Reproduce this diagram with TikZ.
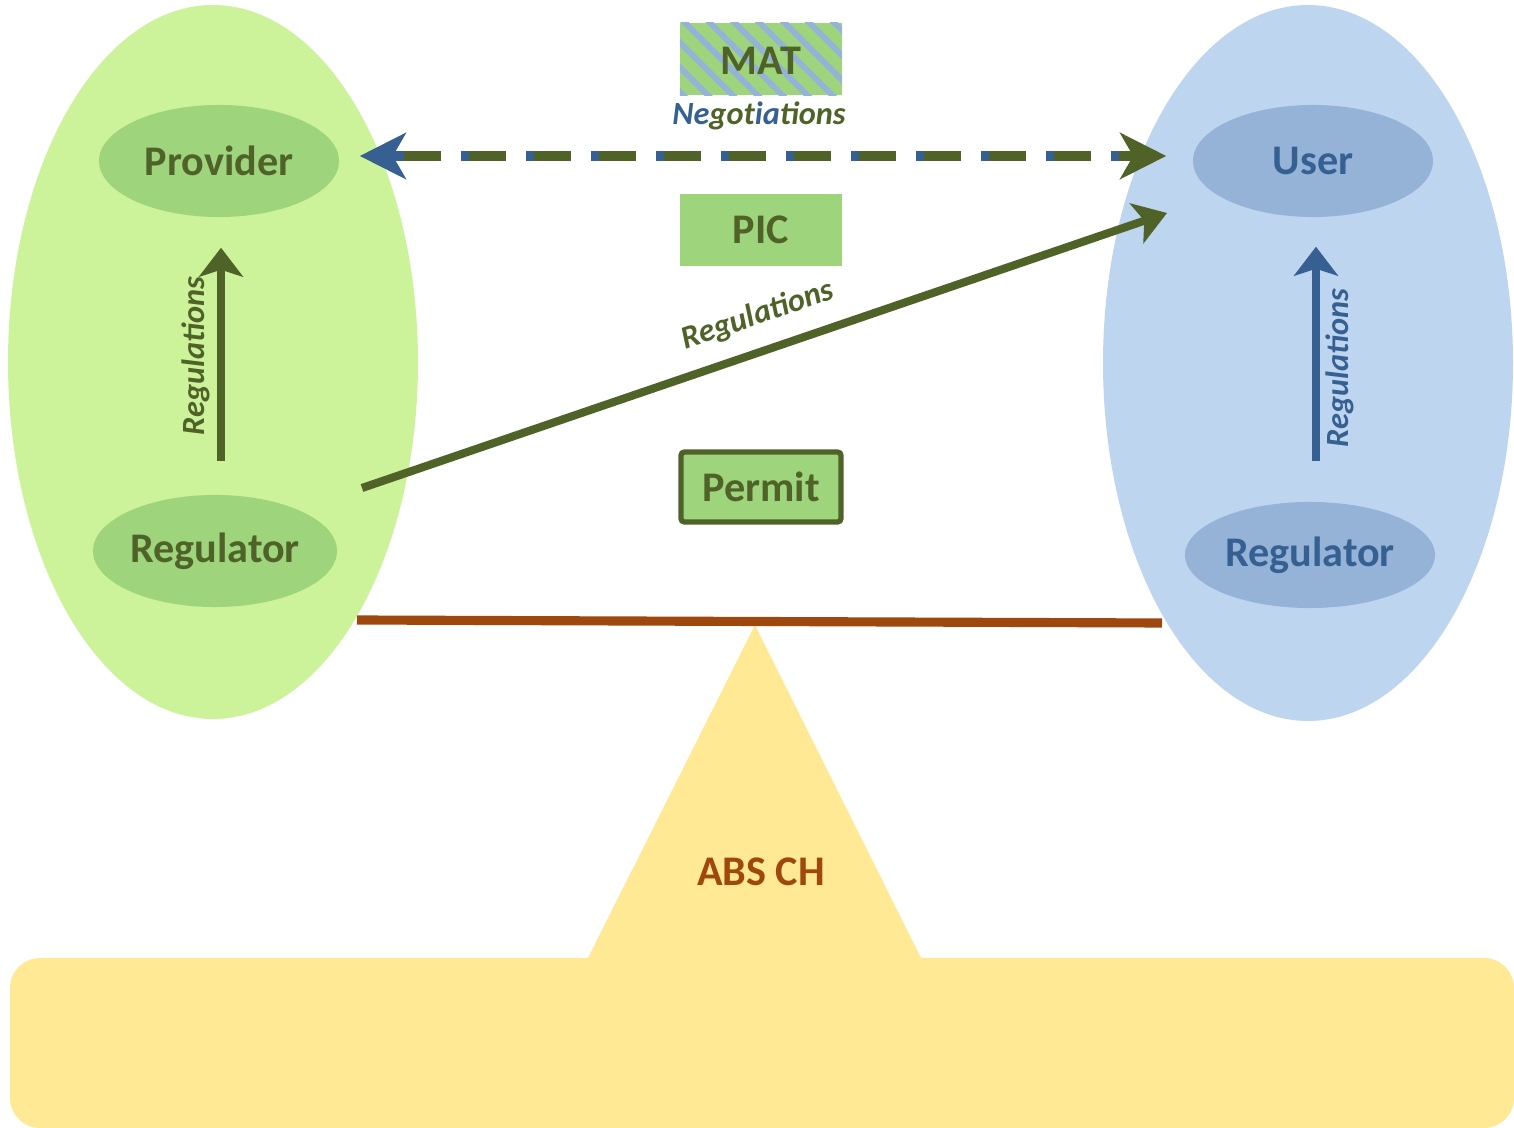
\documentclass[tikz,border=0pt]{standalone}
\usepackage{fontspec}
\setmainfont{Carlito}
\usetikzlibrary{shapes.geometric,arrows.meta,patterns.meta}
\definecolor{paleGreen}{RGB}{204,242,154}
\definecolor{midGreen}{RGB}{158,213,124}
\definecolor{olive}{RGB}{79,98,40}
\definecolor{paleBlue}{RGB}{190,213,240}
\definecolor{midBlue}{RGB}{149,179,215}
\definecolor{deepBlue}{RGB}{54,96,146}
\definecolor{beamBrown}{RGB}{158,72,14}
\definecolor{baseYellow}{RGB}{255,233,148}
\tikzset{
  party/.style={ellipse,inner sep=0pt,minimum width=2.4cm,minimum height=1.12cm,font=\fontsize{12}{14}\selectfont\bfseries},
  doc/.style={rectangle,inner sep=0pt,minimum width=1.62cm,minimum height=0.72cm,fill=midGreen,text=olive,font=\fontsize{12}{14}\selectfont\bfseries},
  lbl/.style={font=\fontsize{9.2}{11}\selectfont\bfseries\itshape},
  bigtip/.style={-{Stealth[length=0.46cm,width=0.46cm,inset=0.13cm]}},
  smalltip/.style={-{Stealth[length=0.29cm,width=0.44cm,inset=0.07cm]}}
}
\begin{document}
\begin{tikzpicture}[x=0.01cm,y=-0.01cm]
  \useasboundingbox (0,0) rectangle (1514,1128);
  % countries
  \fill[paleGreen] (213,362) ellipse (205 and 357);
  \fill[paleBlue] (1308,363) ellipse (205 and 358);
  % balance
  \fill[baseYellow, rounded corners=0.3cm] (10,958) rectangle (1514,1128);
  \fill[baseYellow] (755,625) -- (921,958) -- (588,958) -- cycle;
  \coordinate (beamL) at (357,620);
  \coordinate (beamR) at (1162,623);
  \draw[beamBrown, line width=2.6pt] (beamL) -- (beamR);
  \node[text=beamBrown, font=\fontsize{12}{14}\selectfont\bfseries] (abs) at (761,872) {ABS CH};
  % actors
  \node[party, fill=midGreen, text=olive] (provider) at (219,161) {Provider};
  \node[party, fill=midGreen, text=olive, minimum width=2.44cm] (regL) at (215,551) {Regulator};
  \node[party, fill=midBlue, text=deepBlue] (user) at (1313,161) {User};
  \node[party, fill=midBlue, text=deepBlue, minimum width=2.5cm, minimum height=1.06cm] (regR) at (1310,555) {Regulator};
  % documents
  \node[doc, preaction={fill=midGreen}, pattern={Lines[angle=-45,distance=5pt,line width=1.7pt]}, pattern color=midBlue] (mat) at (761,59) {};
  \node[text=olive, font=\fontsize{12}{14}\selectfont\bfseries] at ([yshift=-0.02cm]mat) {MAT};
  \node[lbl] (nego) at (759,116) {\textcolor{deepBlue}{Ne}\textcolor{olive}{got}\textcolor{deepBlue}{ia}\textcolor{olive}{tions}};
  \node[doc] (pic) at (761,230) {PIC};
  \node[doc, draw=olive, line width=1.5pt, rounded corners=1pt, minimum width=1.6cm, minimum height=0.7cm] (permit) at (761,487) {Permit};
  % negotiations
  \coordinate (negL) at ([yshift=0.05cm]provider.east);
  \coordinate (negR) at ([yshift=0.05cm]user.west);
  \draw[deepBlue, line width=2.6pt, dash pattern=on 0.45cm off 0.2cm, shorten <=0.56cm, shorten >=0.3cm] (negL) -- (negR);
  \draw[olive, line width=2.6pt, dash pattern=on 0.37cm off 0.28cm, dash phase=0.57cm, shorten <=0.56cm, shorten >=0.3cm] (negL) -- (negR);
  \draw[deepBlue, line width=2.6pt, shorten <=0.2cm, shorten >=7.94cm,
        {Stealth[length=0.46cm,width=0.46cm,inset=0.13cm]}-] (negL) -- (negR);
  \draw[olive, line width=2.6pt, shorten <=7.9cm, shorten >=0.26cm, bigtip] (negL) -- (negR);
  % regulations
  \draw[olive, line width=2.4pt, smalltip, shorten <=0.33cm, shorten >=0.3cm] (regL.north -| 221,0) -- (provider.south -| 221,0)
    node[lbl, midway, sloped, above=-1.3pt, text=olive] {Regulations};
  \draw[deepBlue, line width=2.4pt, smalltip, shorten <=0.4cm, shorten >=0.29cm] (regR.north -| 1316,0) -- (user.south -| 1316,0)
    node[lbl, pos=0.47, sloped, below=-1.8pt, text=deepBlue] {Regulations};
  \coordinate (diagS) at (362,488);
  \coordinate (diagE) at (1167,213);
  \draw[olive, line width=2.3pt, -{Stealth[length=0.32cm,width=0.42cm,inset=0.08cm]}] (diagS) -- (diagE)
    node[lbl, pos=0.506, sloped, above=1.5pt, text=olive] {Regulations};
\end{tikzpicture}
\end{document}
